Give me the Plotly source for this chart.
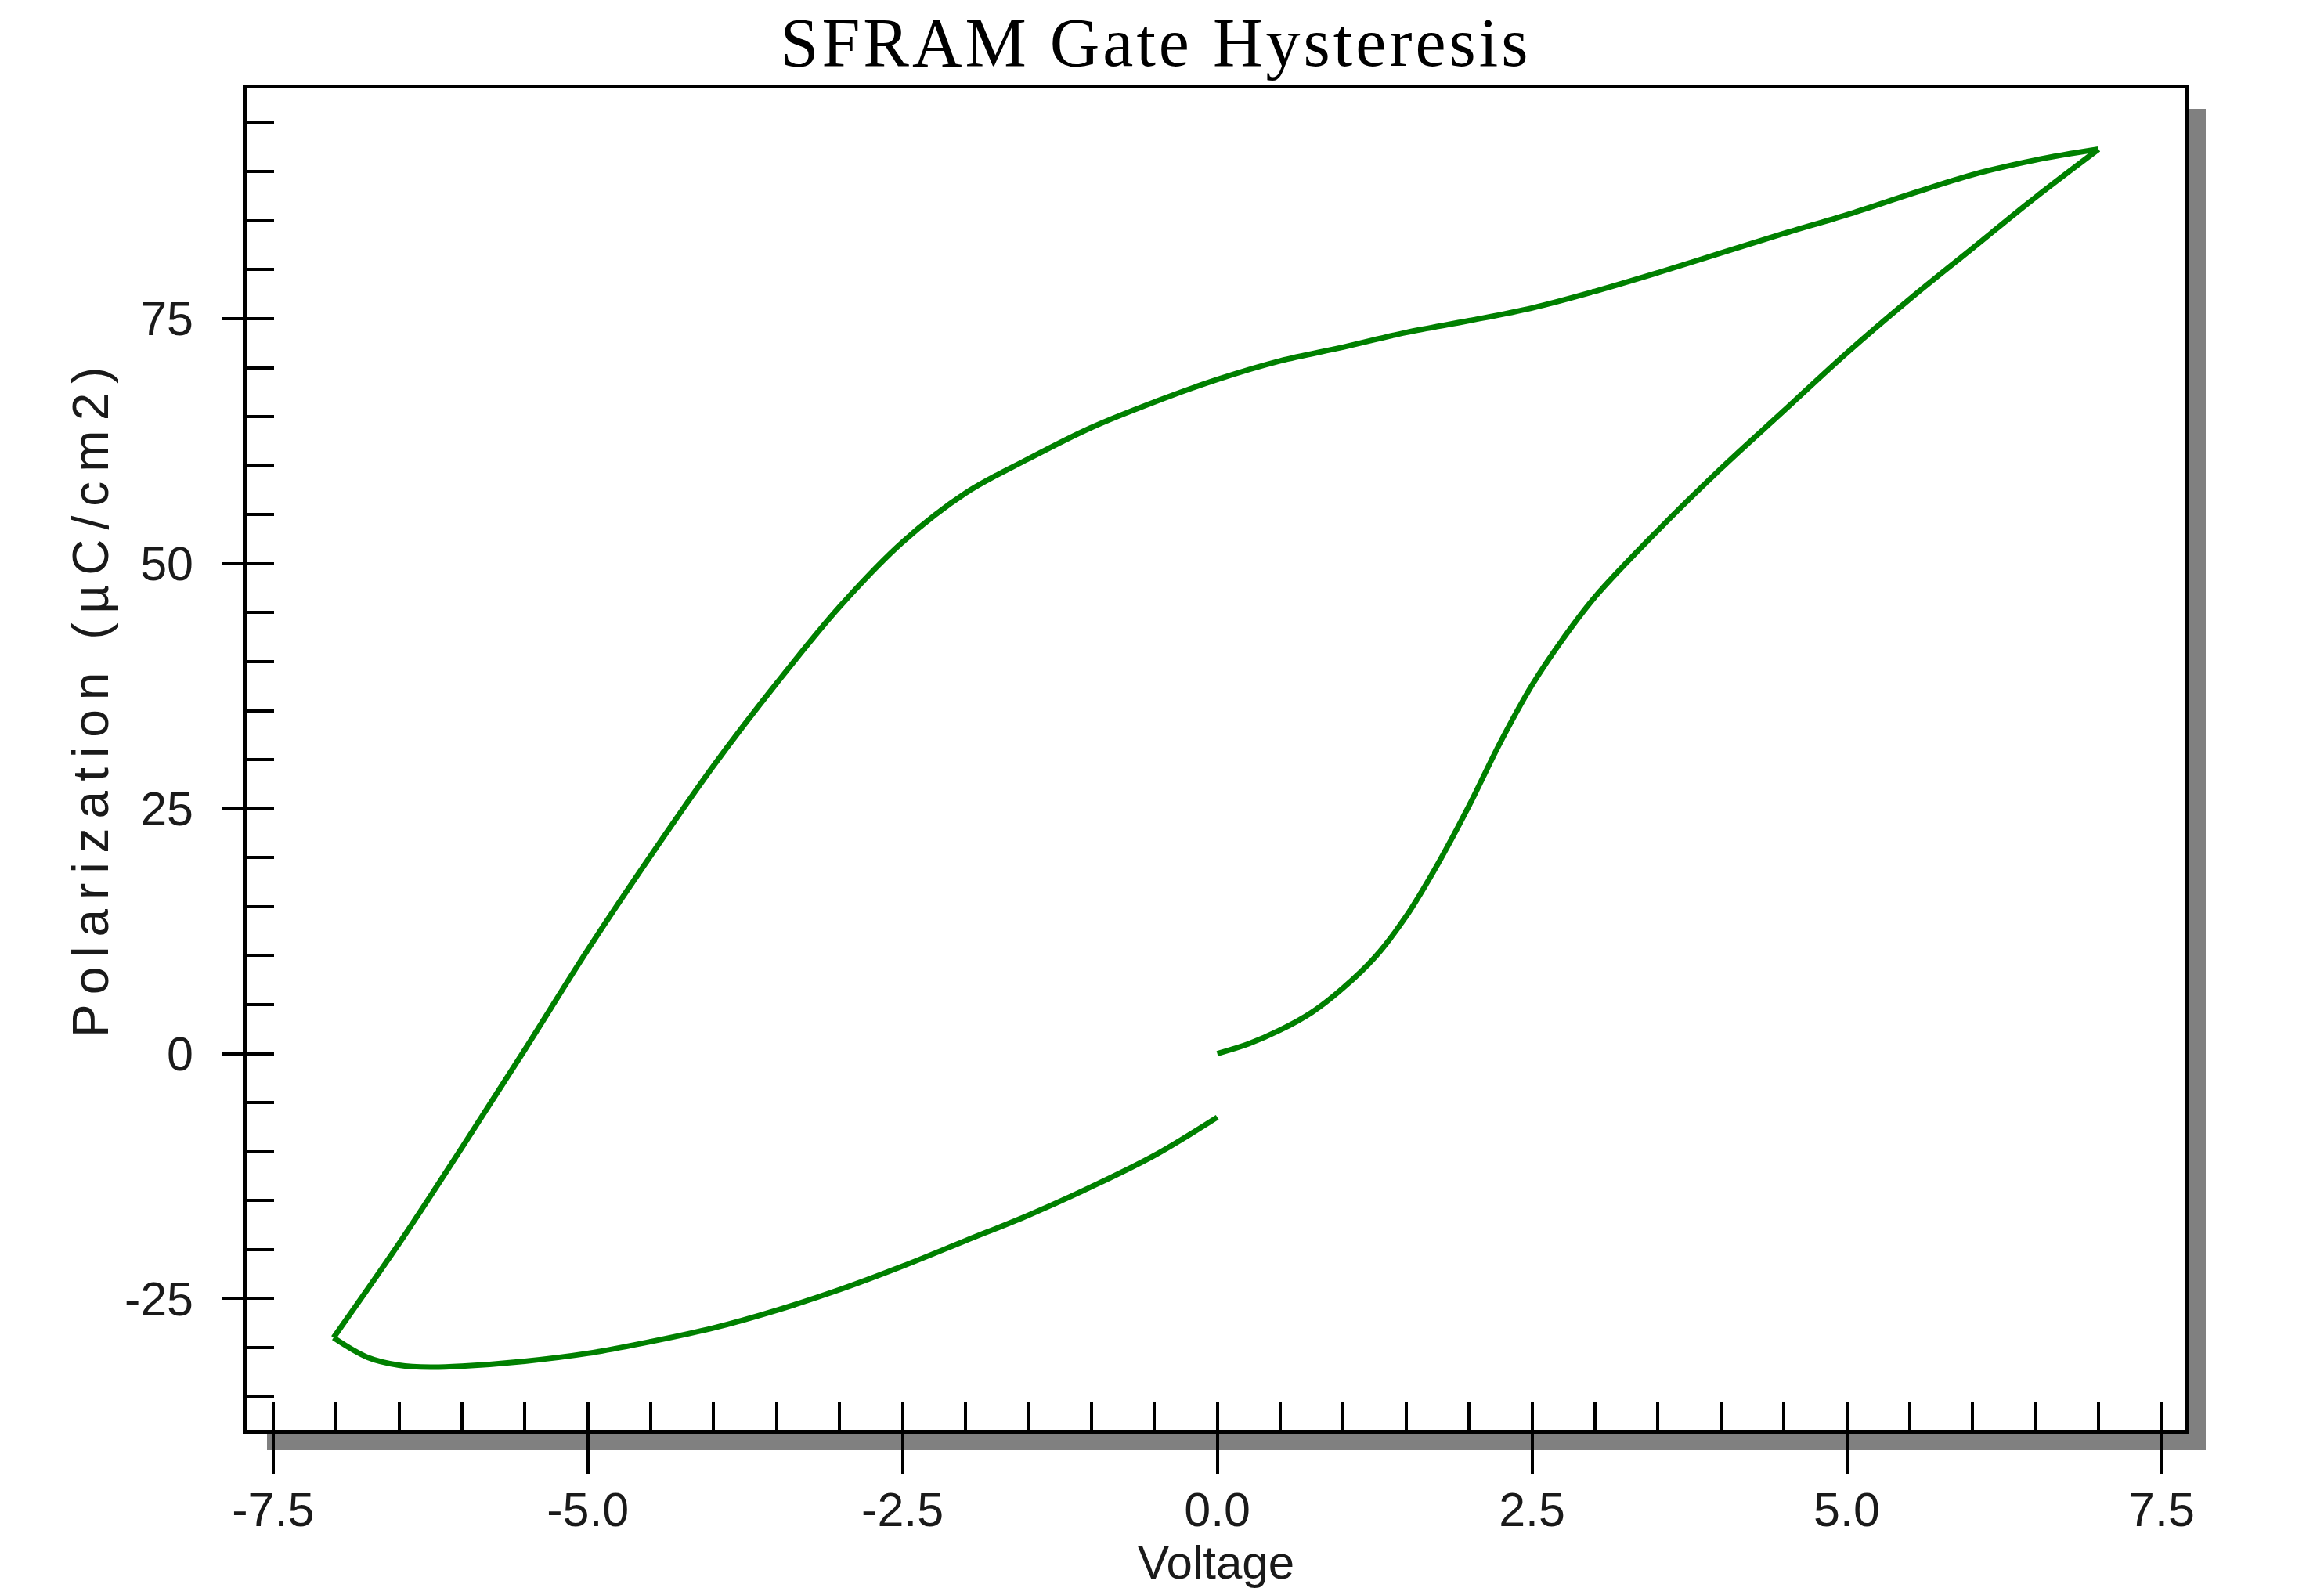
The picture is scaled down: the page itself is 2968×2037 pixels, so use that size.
import plotly.graph_objects as go

# ---- data ----
voltage_rise = [0.00, 0.25, 0.50, 0.75, 1.00, 1.25, 1.50, 1.75, 2.00, 2.25, 2.50, 2.75, 3.00,
                3.50, 4.00, 4.50, 5.00, 5.50, 6.00, 6.50, 7.00]
polar_rise = [0.0, 1.0, 2.4, 4.2, 6.7, 9.8, 14.0, 19.3, 25.3, 31.8, 37.6, 42.4, 46.6,
              53.4, 59.7, 65.6, 71.5, 77.0, 82.2, 87.4, 92.3]

voltage_fall = [7.00, 6.50, 6.00, 5.50, 5.00, 4.50, 4.00, 3.50, 3.00, 2.50, 2.00, 1.50, 1.00, 0.50, 0.00,
                -0.50, -1.00, -1.50, -2.00, -2.50, -3.00, -3.50, -4.00, -4.50, -5.00, -5.50, -6.00,
                -6.50, -7.02]
polar_fall = [92.3, 91.2, 89.7, 87.7, 85.6, 83.7, 81.7, 79.7, 77.8, 76.1, 74.8, 73.6, 72.1, 70.7, 68.8,
              66.5, 63.9, 60.7, 57.2, 52.2, 45.6, 37.8, 29.4, 20.2, 10.6, 0.4, -9.6,
              -19.4, -29.0]

voltage_return = [-7.02, -6.75, -6.50, -6.25, -6.00, -5.50, -5.00, -4.50, -4.00, -3.50, -3.00,
                  -2.50, -2.00, -1.50, -1.00, -0.50, 0.00]
polar_return = [-29.0, -31.0, -31.8, -32.0, -31.9, -31.4, -30.6, -29.4, -28.0, -26.2, -24.1,
                -21.7, -19.1, -16.5, -13.6, -10.4, -6.5]

x_tick_vals = [-7.5, -5.0, -2.5, 0.0, 2.5, 5.0, 7.5]
x_tick_text = ["-7.5", "-5.0", "-2.5", "0.0", "2.5", "5.0", "7.5"]
y_tick_vals = [-25, 0, 25, 50, 75]
y_tick_text = ["-25", "0", "25", "50", "75"]

x_range = [-7.71, 7.69]
y_range = [-38.4, 98.5]

title_text = "SFRAM Gate Hysteresis"
x_title = "Voltage"
y_title = "Polarization (µC/cm2)"

# ---- styling ----
W, H = 2968, 2037
L, R, T, B = 315, 177, 113, 211
plot_w = W - L - R
plot_h = H - T - B
green = "#008000"
sans = "Liberation Sans Narrow, Arial Narrow, Liberation Sans, Arial, sans-serif"
tick_font = dict(family=sans, size=61, color="#1a1a1a")

fig = go.Figure()
for xs, ys in [(voltage_rise, polar_rise), (voltage_fall, polar_fall), (voltage_return, polar_return)]:
    fig.add_trace(go.Scatter(x=xs, y=ys, mode="lines",
                             line=dict(color=green, width=7, shape="spline", smoothing=1.0),
                             showlegend=False, hoverinfo="skip"))

# helper trace for overlay axes (inside parts of the major ticks)
fig.add_trace(go.Scatter(x=[], y=[], xaxis="x2", yaxis="y2", showlegend=False, hoverinfo="skip"))

common_axis = dict(showgrid=False, zeroline=False, showline=True, linecolor="black", linewidth=4.5,
                   mirror=True, tickcolor="black", tickwidth=3.5, tickfont=tick_font)

fig.update_layout(
    width=W, height=H, autosize=False,
    margin=dict(l=L, r=R, t=T, b=B, pad=0),
    paper_bgcolor="white", plot_bgcolor="white",
    showlegend=False,
    title=dict(text=title_text, x=1476 / W, xanchor="center", y=1 - 53 / H, yanchor="middle",
               font=dict(family="Liberation Serif, Times New Roman, serif", size=88, color="black")),
    xaxis=dict(range=x_range, tickmode="array", tickvals=x_tick_vals, ticktext=x_tick_text,
               ticks="outside", ticklen=51, ticklabelstandoff=-6,
               minor=dict(tickmode="linear", tick0=0, dtick=0.5, ticks="inside", ticklen=36,
                          tickwidth=3.5, tickcolor="black", showgrid=False),
               title=dict(text=x_title, standoff=2,
                          font=dict(family=sans, size=60, color="#1a1a1a")),
               **common_axis),
    yaxis=dict(range=y_range, tickmode="array", tickvals=y_tick_vals, ticktext=y_tick_text,
               ticks="outside", ticklen=27, ticklabelstandoff=24,
               minor=dict(tickmode="linear", tick0=0, dtick=5, ticks="inside", ticklen=35,
                          tickwidth=3.5, tickcolor="black", showgrid=False),
               **common_axis),
    xaxis2=dict(range=x_range, overlaying="x", anchor="y", side="bottom", tickmode="array",
                tickvals=x_tick_vals, ticks="inside", ticklen=36, tickwidth=3.5, tickcolor="black",
                showticklabels=False, showline=False, showgrid=False, zeroline=False),
    yaxis2=dict(range=y_range, overlaying="y", anchor="x", side="left", tickmode="array",
                tickvals=y_tick_vals, ticks="inside", ticklen=35, tickwidth=3.5, tickcolor="black",
                showticklabels=False, showline=False, showgrid=False, zeroline=False),
)

# y axis title as rotated annotation (positioned like the reference)
fig.add_annotation(text=y_title, xref="paper", yref="paper",
                   x=(116 - L) / plot_w, y=(H - B - 891) / plot_h,
                   xanchor="center", yanchor="middle", textangle=-90, showarrow=False,
                   font=dict(family=sans, size=64, color="#1a1a1a"))

# drop shadow of the plot frame (gray band to the right and below)
dx = 26 / plot_w
dy = 26 / plot_h
fig.add_shape(type="rect", xref="paper", yref="paper", x0=1, x1=1 + dx, y0=-dy, y1=1 - dy,
              fillcolor="#808080", line=dict(width=0), layer="below")
fig.add_shape(type="rect", xref="paper", yref="paper", x0=dx, x1=1 + dx, y0=-dy, y1=0,
              fillcolor="#808080", line=dict(width=0), layer="below")

post = """
var gd = document.getElementById('{plot_id}');
function spacing(){
  gd.querySelectorAll('.gtitle').forEach(function(e){ e.style.letterSpacing = '4px'; });
  gd.querySelectorAll('.annotation-text').forEach(function(e){ e.style.letterSpacing = '12px'; });
}
spacing();
gd.on('plotly_afterplot', spacing);
"""

fig.write_html("out.html", post_script=post)
